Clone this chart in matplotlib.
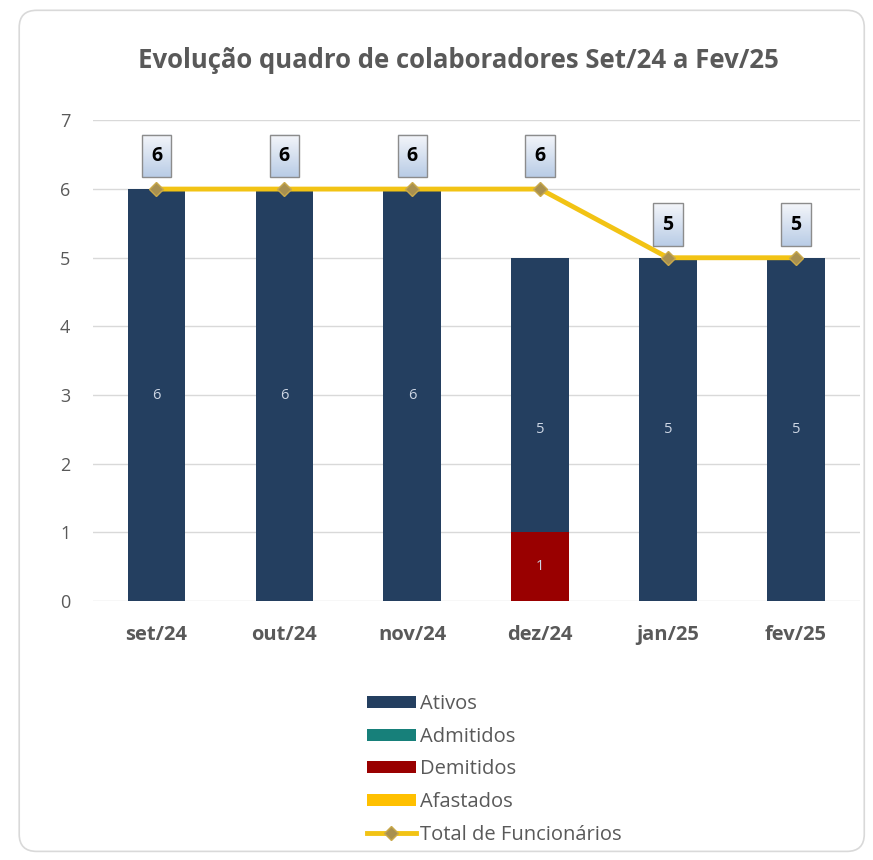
import numpy as np
import matplotlib.pyplot as plt
from matplotlib.patches import FancyBboxPatch, Rectangle
from matplotlib.colors import LinearSegmentedColormap

meses = ["set/24", "out/24", "nov/24", "dez/24", "jan/25", "fev/25"]
ativos = [6, 6, 6, 5, 5, 5]
admitidos = [0, 0, 0, 0, 0, 0]
demitidos = [0, 0, 0, 1, 0, 0]
afastados = [0, 0, 0, 0, 0, 0]
total = [6, 6, 6, 6, 5, 5]

cor_ativos = "#243f60"
cor_admitidos = "#17807a"
cor_demitidos = "#990000"
cor_afastados = "#ffc000"
cor_total = "#f2c314"

plt.rcParams['font.family'] = ['Open Sans', 'DejaVu Sans']

fig = plt.figure(figsize=(8.73, 8.60), dpi=100)
# moldura arredondada do grafico
borda = FancyBboxPatch((0.022, 0.01), 0.968, 0.978, boxstyle="round,pad=0,rounding_size=0.02",
                       transform=fig.transFigure, facecolor="white", edgecolor="#d9d9d9", lw=1.2,
                       zorder=-5)
fig.patches.append(borda)

ax = fig.add_axes([0.106, 0.301, 0.879, 0.559])
ax.set_zorder(2)
ax.patch.set_alpha(0)
x = np.arange(len(meses))
w = 0.45

ax.bar(x, ativos, w, color=cor_ativos, label="Ativos", zorder=2)
ax.bar(x, admitidos, w, color=cor_admitidos, label="Admitidos", zorder=2)
ax.bar(x, demitidos, w, color=cor_demitidos, label="Demitidos", zorder=3)
ax.bar(x, afastados, w, color=cor_afastados, label="Afastados", zorder=3)

for serie in [ativos, admitidos, demitidos, afastados]:
    for i, v in enumerate(serie):
        if v > 0:
            ax.text(x[i], v / 2, str(v), ha="center", va="center", color="#cdd6e4",
                    fontsize=10.5, zorder=5)

ax.plot(x, total, color=cor_total, lw=3.5, marker="D", markersize=7,
        markerfacecolor="#a89050", markeredgecolor="#c9a94a", label="Total de Funcionários", zorder=4)

# caixinhas com gradiente acima da linha do total
grad = LinearSegmentedColormap.from_list("caixa", ["#b9cce6", "#f4f6fa"])
g = np.linspace(0, 1, 64).reshape(-1, 1)
bw, b0, b1 = 0.115, 0.17, 0.79
for i, v in enumerate(total):
    ax.imshow(g, cmap=grad, extent=[x[i] - bw, x[i] + bw, v + b0, v + b1], aspect="auto",
              origin="lower", zorder=5)
    ax.add_patch(Rectangle((x[i] - bw, v + b0), 2 * bw, b1 - b0, fill=False,
                           edgecolor="#8c8c8c", lw=1, zorder=6))
    ax.text(x[i], v + (b0 + b1) / 2, str(v), ha="center", va="center", fontsize=14,
            fontweight="bold", color="black", zorder=7)

ax.set_xlim(-0.5, len(meses) - 0.5)
ax.set_ylim(0, 7)
ax.set_yticks(range(0, 8))
ax.set_xticks(x)
ax.set_xticklabels(meses, fontsize=14.5, fontweight="bold", color="#595959")
ax.tick_params(axis="y", labelsize=13, labelcolor="#595959", length=0, pad=16)
ax.tick_params(axis="x", length=0, pad=17)
ax.grid(axis="y", color="#d9d9d9", lw=1, zorder=0)
for s in ax.spines.values():
    s.set_visible(False)

fig.text(0.525, 0.93, "Evolução quadro de colaboradores Set/24 a Fev/25", ha="center", va="center",
         fontsize=18.5, fontweight="bold", color="#595959")

h, l = ax.get_legend_handles_labels()
ordem = [1, 2, 3, 4, 0]
leg = ax.legend([h[k] for k in ordem], [l[k] for k in ordem], loc="upper left", frameon=False,
                fontsize=14.5, handlelength=2.45, handleheight=0.55, handletextpad=0.2,
                labelspacing=0.63, labelcolor="#595959", borderpad=0, borderaxespad=0)
leg.set_bbox_to_anchor((0.420, 0.193), transform=fig.transFigure)

fig.savefig("out.png", dpi=100)
